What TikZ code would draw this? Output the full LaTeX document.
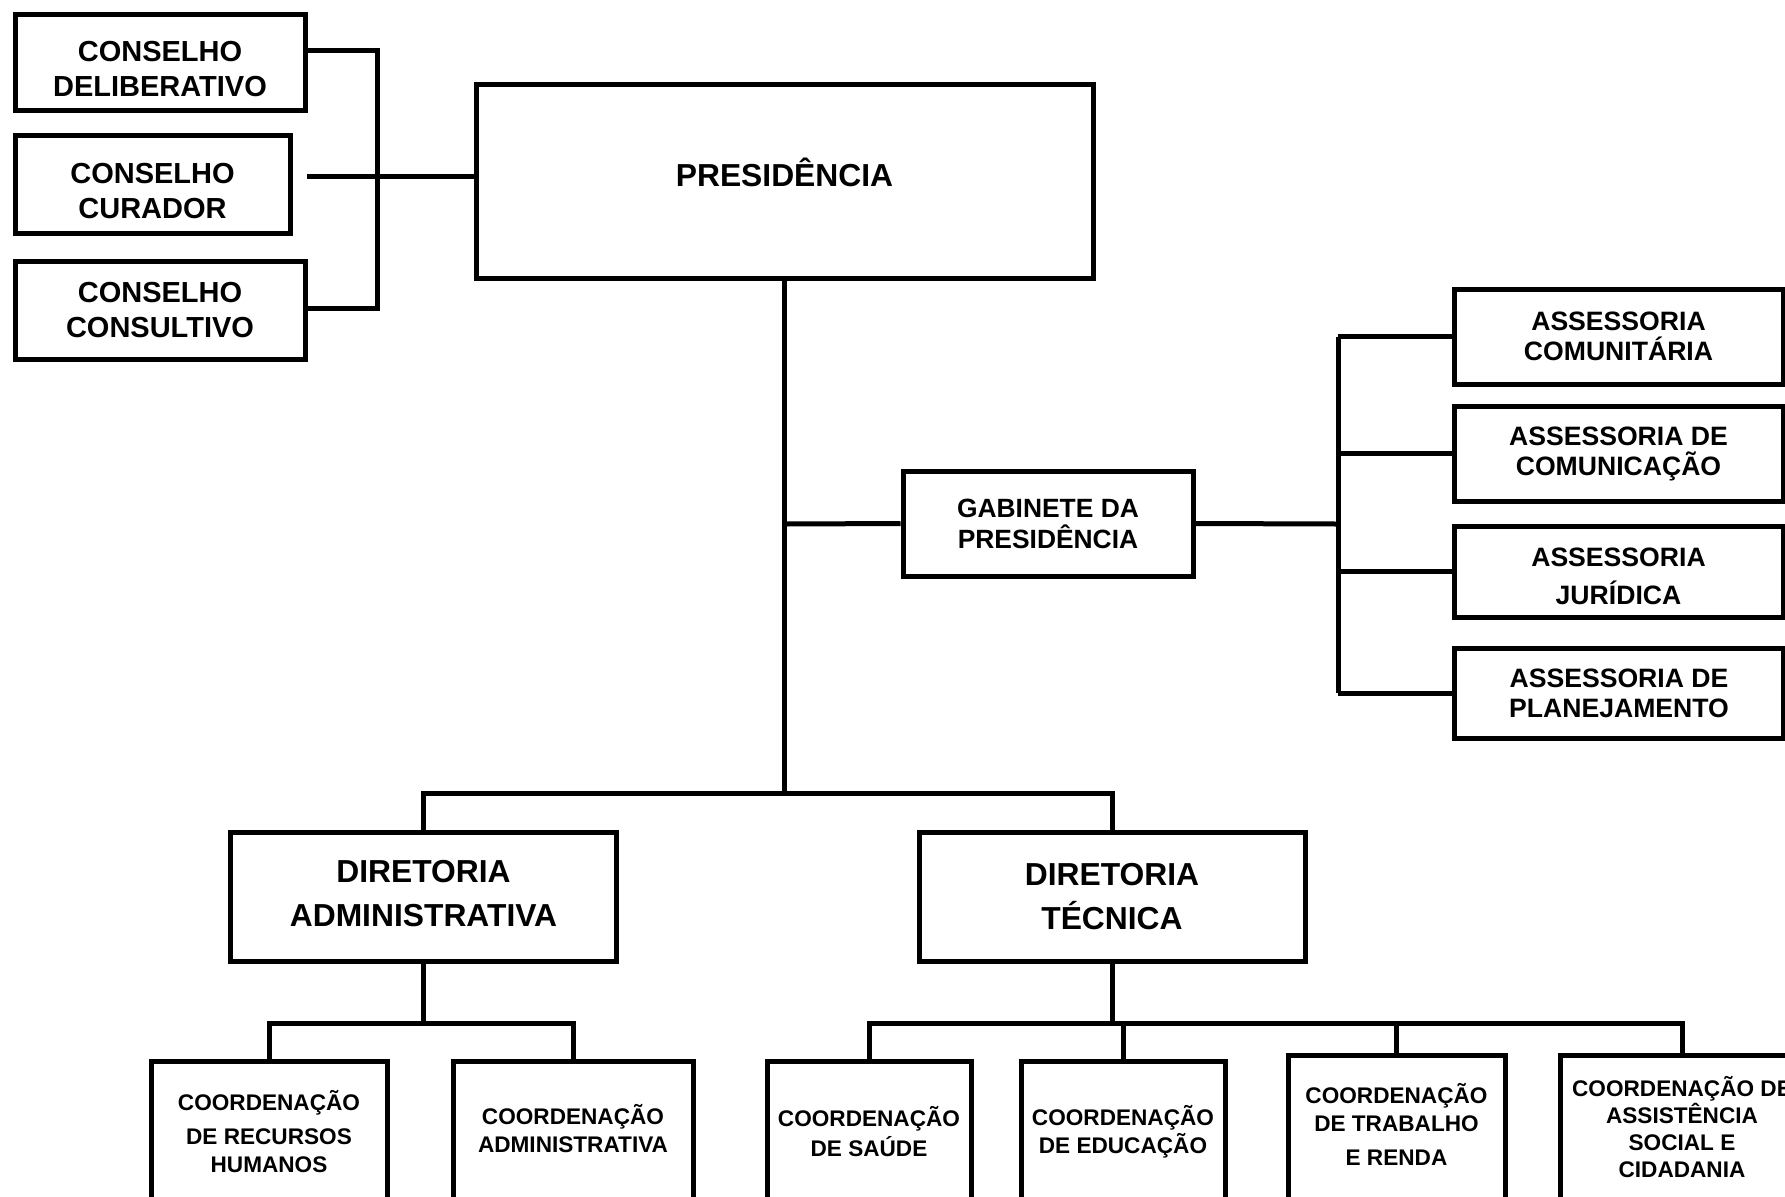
\documentclass[tikz,border=0pt]{standalone}
\usepackage{fontspec}
\setmainfont{Liberation Sans}
\usetikzlibrary{positioning}

\begin{document}
\begin{tikzpicture}[x=0.5pt,y=-0.5pt,
  box/.style={draw,line width=2.5pt,align=center,inner sep=0pt},
  cons/.style={box,font=\fontsize{14.5}{17.5}\selectfont\bfseries},
  asse/.style={box,minimum width=164.5pt,font=\fontsize{13.3}{15}\selectfont\bfseries},
  dire/.style={box,minimum width=193pt,minimum height=64.5pt,font=\fontsize{15.9}{21.8}\selectfont\bfseries},
  coord/.style={box,font=\fontsize{11.3}{14}\selectfont\bfseries},
  conn/.style={line width=2.5pt}
]
  \useasboundingbox (0,0) rectangle (1785,1196);

  % conselhos
  \node[cons,minimum width=145pt,minimum height=48pt] (delib) at (160,62) {\rule{0pt}{17.4pt}CONSELHO\\DELIBERATIVO};
  \node[cons,minimum width=137.5pt,minimum height=49pt] (cur) at (152.5,184) {\rule{0pt}{17.4pt}CONSELHO\\CURADOR};
  \node[cons,minimum width=145pt,minimum height=49pt] (consul) at (160,310) {CONSELHO\\CONSULTIVO};

  \node[box,minimum width=308.5pt,minimum height=97pt,font=\fontsize{15.9}{19}\selectfont\bfseries] (pres) at (784.5,181) {PRESIDÊNCIA\rule[-9pt]{0pt}{9pt}};

  \coordinate (ltop) at (377,50);
  \coordinate (lbot) at (377,308);
  \coordinate (lmid) at (377,176);
  \coordinate (curend) at (307,176);
  \draw[conn] (delib.east |- ltop) -- (ltop) -- (lbot) -- (consul.east |- lbot);
  \draw[conn] (curend) -- (lmid) -- (pres.west |- lmid);

  % gabinete e assessorias
  \node[box,minimum width=145pt,minimum height=52.5pt,font=\fontsize{13.2}{15.4}\selectfont\bfseries] (gab) at (1048,523.5) {GABINETE DA\\PRESIDÊNCIA};
  \node[asse,minimum height=47.5pt] (ac1) at (1618.5,336.5) {ASSESSORIA\\COMUNITÁRIA};
  \node[asse,minimum height=47.5pt] (ac2) at (1618.5,453.5) {ASSESSORIA DE\\COMUNICAÇÃO};
  \node[asse,minimum height=45.5pt] (ac3) at (1618.5,571.5) {\rule{0pt}{14.2pt}ASSESSORIA\\[4pt]JURÍDICA};
  \node[asse,minimum height=45pt] (ac4) at (1619,693) {ASSESSORIA DE\\PLANEJAMENTO};

  \coordinate (gj) at (784.5,524);
  \coordinate (rb) at (1338,524);
  \coordinate (dbus) at (784.5,793);
  \draw[conn] (pres.south) -- (dbus);
  \draw[conn] (gj) -- (gab.west);
  \draw[conn] (gab.east) -- (rb);
  \draw[conn] (rb |- ac1.west) -- (rb |- ac4.west);
  \foreach \n in {1,...,4}
    \draw[conn] (rb |- ac\n.west) -- (ac\n.west);

  % diretorias
  \node[dire] (dadm) at (423.5,896.5) {DIRETORIA\\ADMINISTRATIVA\rule[-3pt]{0pt}{3pt}};
  \node[dire] (dtec) at (1112,896.5) {DIRETORIA\\TÉCNICA};
  \draw[conn] (dadm.north) |- (dbus) -| (dtec.north);

  % coordenacoes
  \node[coord,minimum width=118pt,minimum height=71pt] (crh) at (269,1132) {COORDENAÇÃO\\[3pt]DE RECURSOS\\HUMANOS};
  \node[coord,minimum width=120pt,minimum height=71pt] (cadm) at (573,1132) {COORDENAÇÃO\\ADMINISTRATIVA\rule[-3.4pt]{0pt}{3.4pt}};
  \node[coord,minimum width=102pt,minimum height=71pt] (csau) at (869,1132) {COORDENAÇÃO\\[1pt]DE SAÚDE};
  \node[coord,minimum width=102pt,minimum height=71pt] (cedu) at (1123,1132) {COORDENAÇÃO\\DE EDUCAÇÃO};
  \node[coord,minimum width=108.5pt,minimum height=75pt] (ctra) at (1396.5,1130) {COORDENAÇÃO\\DE TRABALHO\\[3pt]E RENDA\rule[-6pt]{0pt}{6pt}};
  \node[coord,minimum width=122pt,minimum height=75pt,font=\fontsize{11.3}{13.5}\selectfont\bfseries] (cass) at (1682,1130) {COORDENAÇÃO DE\\ASSISTÊNCIA\\SOCIAL E\\CIDADANIA\rule[-3.4pt]{0pt}{3.4pt}};

  \coordinate (abus) at (423.5,1023);
  \coordinate (tbus) at (1112,1023);
  \draw[conn] (dadm.south) -- (abus);
  \draw[conn] (crh.north) |- (abus) -| (cadm.north);
  \draw[conn] (dtec.south) -- (tbus);
  \draw[conn] (csau.north) |- (tbus) -| (cass.north);
  \draw[conn] (cedu.north) -- (cedu.north |- tbus);
  \draw[conn] (ctra.north) -- (ctra.north |- tbus);
\end{tikzpicture}
\end{document}
